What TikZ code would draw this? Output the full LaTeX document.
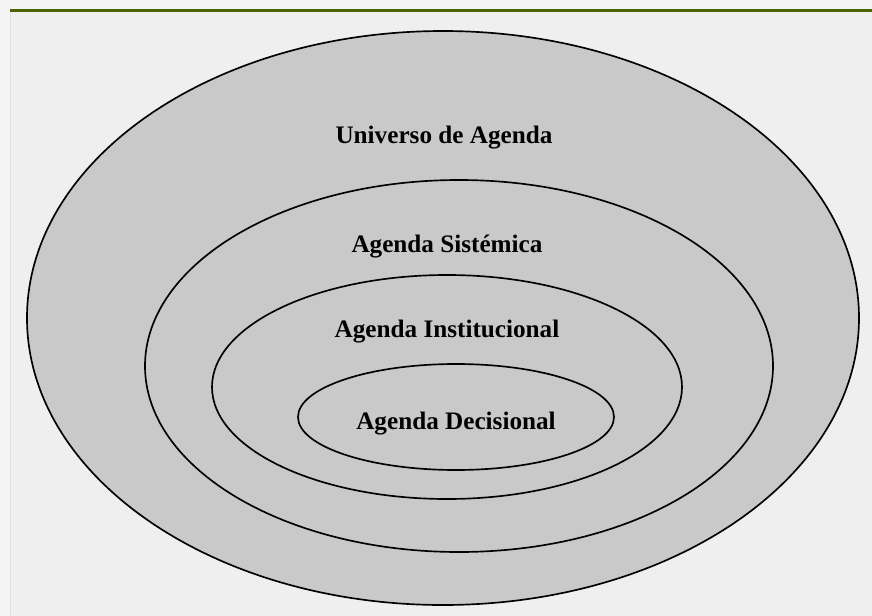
\documentclass[tikz,border=0pt]{standalone}
\usepackage{fontspec}
\setmainfont{Liberation Serif}
\usetikzlibrary{shapes.geometric}
\definecolor{panel}{HTML}{EFEFEF}
\definecolor{strip}{HTML}{F4F4F4}
\definecolor{ringfill}{HTML}{C9C9C9}
\definecolor{topbar}{HTML}{4A6400}
\tikzset{
  ring/.style={draw, ellipse, fill=ringfill, line width=0.5mm, inner sep=0pt},
  lbl/.style={font=\fontsize{21.5}{24}\selectfont\bfseries, inner sep=1pt},
}
\begin{document}
\begin{tikzpicture}[x=0.3mm,y=-0.3mm]
\useasboundingbox (0,0) rectangle (872,616);
% page background
\fill[strip] (0,0) rectangle (872,616);
\fill[panel] (10,12) rectangle (872,616);
\draw[black!12] (10,12) -- (10,616);
\draw[topbar, line width=0.75mm] (10,10.5) -- (872,10.5);
% rings, outer to inner
\node[ring, minimum width=249.6mm, minimum height=172.2mm] (univ) at (443,318) {};
\node[ring, minimum width=188.4mm, minimum height=111.6mm] (sist) at (459,366) {};
\node[ring, minimum width=141mm, minimum height=67.2mm] (inst) at (447,387) {};
\node[ring, minimum width=94.8mm, minimum height=31.8mm] (deci) at (456,417) {};
% labels
\node[lbl] (tuniv) at (444,138) {Universo de Agenda};
\node[lbl] (tsist) at (447,247) {Agenda Sistémica};
\node[lbl] (tinst) at (447,332) {Agenda Institucional};
\node[lbl] (tdeci) at (456,424) {Agenda Decisional};
\end{tikzpicture}
\end{document}
